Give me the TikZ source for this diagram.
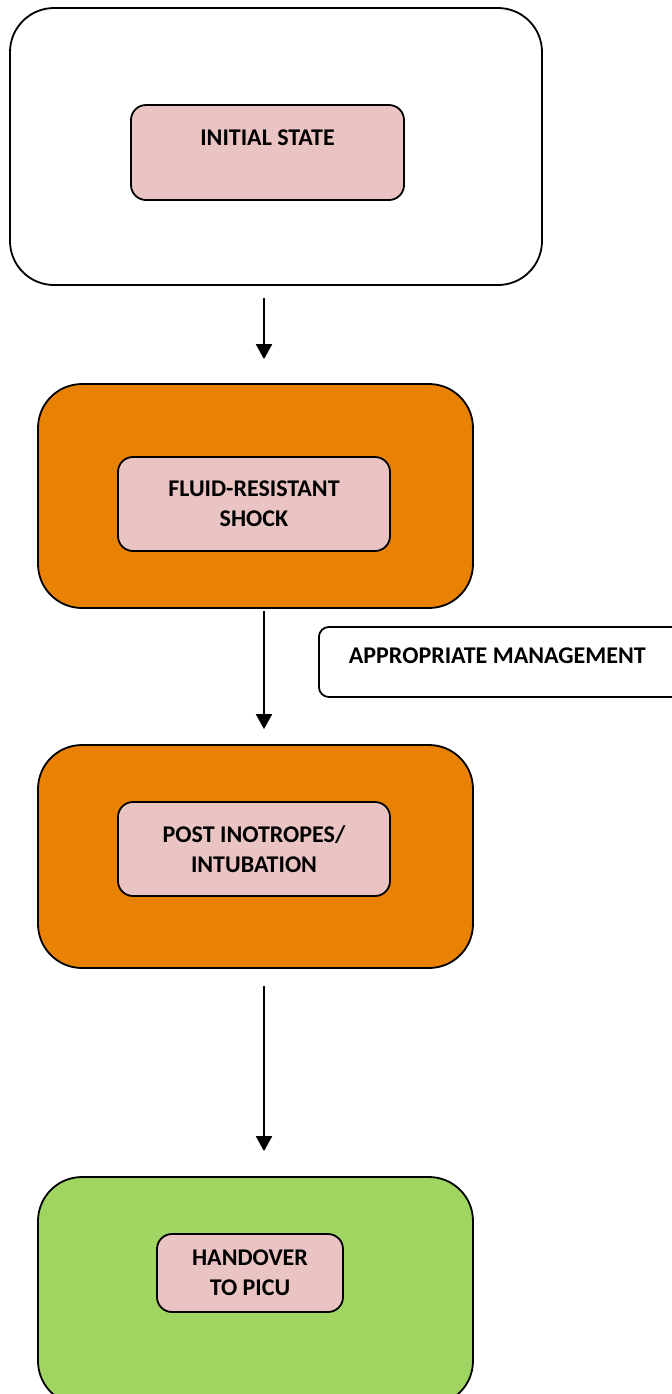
\documentclass[tikz,border=0pt]{standalone}
\usepackage{fontspec}
\setmainfont{Carlito}
\usetikzlibrary{arrows.meta}

\definecolor{stageorange}{RGB}{233,129,3}
\definecolor{stagegreen}{RGB}{161,213,98}
\definecolor{boxpink}{RGB}{234,196,195}

\begin{document}
\begin{tikzpicture}[x=0.5pt, y=-0.5pt,
    stage/.style={draw, line width=0.9pt, rounded corners=22pt, minimum width=217.5pt, minimum height=112pt},
    inner/.style={draw, line width=0.9pt, fill=boxpink, rounded corners=7.5pt, minimum width=136pt, minimum height=47pt,
        align=center, font=\fontsize{12}{15}\selectfont\bfseries},
    note/.style={draw, line width=0.9pt, rounded corners=5pt, minimum height=35pt, inner xsep=15pt,
        text width=186pt, align=flush left, text height=6pt, text depth=4.2pt, font=\fontsize{12}{15}\selectfont\bfseries},
    flow/.style={line width=1pt, -{Triangle[width=8pt,length=7.5pt]}}]
    \useasboundingbox (0,0) rectangle (672,1394);
    \clip (0,0) rectangle (672,1394);

    % stages
    \node[stage, fill=white, minimum width=266pt, minimum height=138.5pt] (state1) at (276,146.5) {};
    \node[inner, minimum width=136.5pt, minimum height=47.5pt, text height=8pt, text depth=15.2pt] (init) at (267.5,152.5) {INITIAL STATE};

    \node[stage, fill=stageorange] (shock) at (255.5,496) {};
    \node[inner] (fluid) at (254,504) {FLUID-RESISTANT\\SHOCK};

    \node[stage, fill=stageorange, minimum height=111.5pt] (post) at (255.5,856.5) {};
    \node[inner] (intub) at (254,849) {POST INOTROPES/\\INTUBATION};

    \node[stage, fill=stagegreen, minimum height=114pt] (handover) at (255.5,1291) {};
    \node[inner, minimum width=93pt, minimum height=39pt] (picu) at (250,1273) {HANDOVER\\TO PICU};

    \node[note, fill=white, anchor=west] (mgmt) at (318,662) {APPROPRIATE MANAGEMENT};

    % arrows
    \coordinate (ax) at (264,0);
    \draw[flow, shorten <=6pt, shorten >=12pt] (state1.south -| ax) -- (shock.north -| ax);
    \draw[flow, shorten <=1pt, shorten >=7.5pt] (shock.south -| ax) -- (post.north -| ax);
    \draw[flow, shorten <=8.5pt, shorten >=12.5pt] (post.south -| ax) -- (handover.north -| ax);
\end{tikzpicture}
\end{document}
